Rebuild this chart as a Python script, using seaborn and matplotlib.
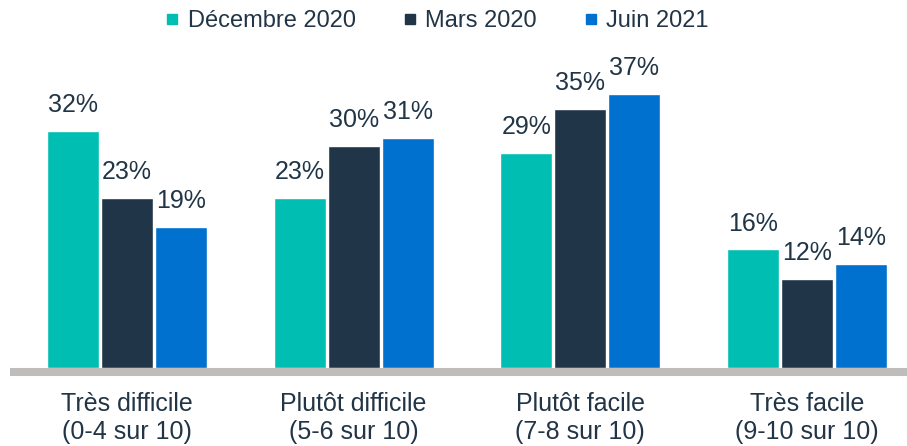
import matplotlib
matplotlib.use("Agg")
import matplotlib.pyplot as plt
import seaborn as sns
import pandas as pd
from matplotlib.lines import Line2D

categories = ["Très difficile\n(0-4 sur 10)", "Plutôt difficile\n(5-6 sur 10)",
              "Plutôt facile\n(7-8 sur 10)", "Très facile\n(9-10 sur 10)"]
series = ["Décembre 2020", "Mars 2020", "Juin 2021"]
dec_2020 = [32, 23, 29, 16]
mars_2020 = [23, 30, 35, 12]
juin_2021 = [19, 31, 37, 14]
colors = ["#00BFB2", "#213549", "#0071CE"]
text_color = "#213547"

rows = []
for s, vals in zip(series, [dec_2020, mars_2020, juin_2021]):
    for c, v in zip(categories, vals):
        rows.append({"cat": c, "series": s, "value": v})
df = pd.DataFrame(rows)

sns.set_style("white")
plt.rcParams["font.family"] = ["Liberation Sans", "DejaVu Sans"]

fig = plt.figure(figsize=(9.07, 4.46), dpi=100)
ax = fig.add_axes([10 / 907, 78 / 446, 897 / 907, (368 - 45) / 446])

sns.barplot(data=df, x="cat", y="value", hue="series", order=categories,
            hue_order=series, palette=colors, width=0.714, gap=0.04,
            saturation=1, ax=ax, legend=False, errorbar=None)

for cont in ax.containers:
    for bar in cont:
        h = bar.get_height()
        ax.annotate(f"{h:.0f}%", (bar.get_x() + bar.get_width() / 2, h),
                    xytext=(0, 10), textcoords="offset points",
                    ha="center", va="bottom", fontsize=18, color=text_color)

ax.set_xlim(-0.516, 3.441)
ax.set_ylim(0, 43.6)
ax.axhline(-0.54, color="#bfbdbb", lw=5.8, clip_on=False, zorder=0,
           solid_capstyle="butt")
for sp in ax.spines.values():
    sp.set_visible(False)
ax.set_yticks([])
ax.set_xlabel("")
ax.set_ylabel("")
ax.tick_params(axis="x", length=0, pad=17.5, labelsize=18, labelcolor=text_color)

handles = [Line2D([], [], marker="s", linestyle="", markersize=7.5, color=c) for c in colors]
fig.legend(handles, series, loc="center", bbox_to_anchor=(437 / 907, 1 - 21 / 446),
           ncol=3, frameon=False, fontsize=17, labelcolor=text_color,
           handlelength=0.6, handletextpad=0.35, columnspacing=2.0)

fig.savefig("out.png", dpi=100)
